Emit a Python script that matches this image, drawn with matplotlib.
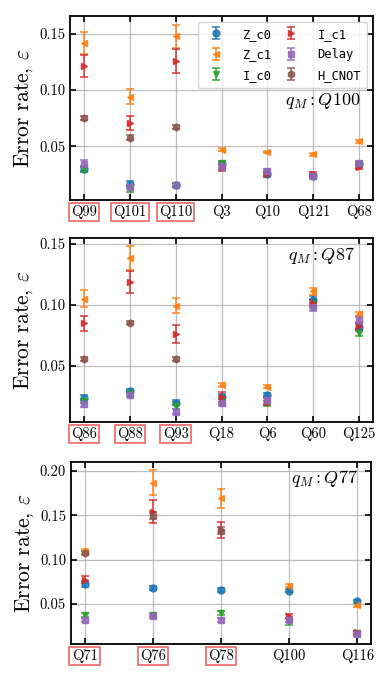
import numpy as np
import matplotlib
matplotlib.use("Agg")
import matplotlib.pyplot as plt

plt.rcParams.update({
    "font.family": "serif",
    "font.serif": ["cmr10"],
    "mathtext.fontset": "cm",
    "axes.formatter.use_mathtext": True,
    "axes.unicode_minus": False,
})

series = ["Z_c0", "Z_c1", "I_c0", "I_c1", "Delay", "H_CNOT"]
colors = ["C0", "C1", "C2", "C3", "C4", "C5"]
markers = ["o", "<", "v", ">", "s", "h"]

# panel 1, q_M = Q100
p1_labels = ["Q99", "Q101", "Q110", "Q3", "Q10", "Q121", "Q68"]
p1_zc0 = [0.0299, 0.0164, 0.0155, 0.0337, 0.0254, 0.0233, 0.0343]
p1_zc0_err = [0.002, 0.003, 0.002, 0.003, 0.002, 0.002, 0.002]
p1_zc1 = [0.1418, 0.094, 0.1478, 0.0469, 0.0448, 0.0427, 0.0543]
p1_zc1_err = [0.0098, 0.0067, 0.0104, 0.0015, 0.0012, 0.0012, 0.0015]
p1_ic0 = [0.029, 0.0119, 0.0155, 0.0352, 0.026, 0.0224, 0.0328]
p1_ic0_err = [0.002, 0.003, 0.002, 0.002, 0.002, 0.002, 0.002]
p1_ic1 = [0.1215, 0.0707, 0.126, 0.0313, 0.0248, 0.0254, 0.0313]
p1_ic1_err = [0.0097, 0.006, 0.011, 0.003, 0.002, 0.002, 0.002]
p1_delay = [0.0343, 0.0134, 0.0155, 0.0322, 0.0278, 0.0233, 0.0349]
p1_delay_err = [0.003, 0.002, 0.002, 0.003, 0.002, 0.002, 0.002]
p1_hcnot = [0.0752, 0.0576, 0.0672]
p1_hcnot_err = [0.002, 0.002, 0.002]

# panel 2, q_M = Q87
p2_labels = ["Q86", "Q88", "Q93", "Q18", "Q6", "Q60", "Q125"]
p2_zc0 = [0.0236, 0.0291, 0.0195, 0.0245, 0.0258, 0.1041, 0.0816]
p2_zc0_err = [0.002, 0.002, 0.002, 0.002, 0.002, 0.003, 0.003]
p2_zc1 = [0.1052, 0.1385, 0.0992, 0.0341, 0.0327, 0.111, 0.0923]
p2_zc1_err = [0.0066, 0.0096, 0.0062, 0.0015, 0.0012, 0.0025, 0.002]
p2_ic0 = [0.0209, 0.027, 0.017, 0.0217, 0.019, 0.1008, 0.0772]
p2_ic0_err = [0.002, 0.002, 0.003, 0.003, 0.002, 0.003, 0.003]
p2_ic1 = [0.0849, 0.1187, 0.0761, 0.0239, 0.0203, 0.1019, 0.0827]
p2_ic1_err = [0.0063, 0.0092, 0.0075, 0.004, 0.003, 0.003, 0.003]
p2_delay = [0.0181, 0.0258, 0.0121, 0.0195, 0.0217, 0.098, 0.0876]
p2_delay_err = [0.002, 0.002, 0.002, 0.003, 0.003, 0.003, 0.003]
p2_hcnot = [0.0552, 0.0854, 0.0555]
p2_hcnot_err = [0.0015, 0.0015, 0.0015]

# panel 3, q_M = Q77
p3_labels = ["Q71", "Q76", "Q78", "Q100", "Q116"]
p3_zc0 = [0.0727, 0.0678, 0.066, 0.0652, 0.0529]
p3_zc0_err = [0.003, 0.002, 0.002, 0.002, 0.002]
p3_zc1 = [0.1086, 0.1864, 0.1688, 0.0705, 0.0491]
p3_zc1_err = [0.003, 0.014, 0.011, 0.002, 0.002]
p3_ic0 = [0.0379, 0.0379, 0.0398, 0.0304, 0.0173]
p3_ic0_err = [0.002, 0.002, 0.002, 0.004, 0.002]
p3_ic1 = [0.0772, 0.1539, 0.1333, 0.036, 0.0181]
p3_ic1_err = [0.004, 0.0127, 0.0093, 0.003, 0.002]
p3_delay = [0.0323, 0.036, 0.0323, 0.0323, 0.0162]
p3_delay_err = [0.002, 0.002, 0.002, 0.002, 0.002]
p3_hcnot = [0.1079, 0.1494, 0.1325]
p3_hcnot_err = [0.002, 0.004, 0.004]

n_boxed = 3  # neighbouring qubits, highlighted


def draw_panel(ax, labels, vals, errs, qm, text_xy, ylim, yticks, legend=False):
    x = np.arange(len(labels))
    for name, c, m, v, e in zip(series, colors, markers, vals, errs):
        xi = x[:len(v)]
        ax.errorbar(xi, v, yerr=e, fmt=m, color=c, ms=5, capsize=3,
                    elinewidth=1.2, capthick=1.2, alpha=0.85, label=name,
                    zorder=3)
    ax.set_xticks(x)
    ax.set_xticklabels(labels, fontsize=10)
    for i, t in enumerate(ax.get_xticklabels()):
        if i < n_boxed:
            t.set_bbox(dict(facecolor="white", edgecolor="#f07070",
                            linewidth=1.3, pad=1.5))
    ax.set_yticks(yticks)
    ax.set_yticklabels(["%.2f" % t for t in yticks])
    ax.set_ylim(*ylim)
    ax.set_xlim(-0.05 * (len(labels) - 1), (len(labels) - 1) * 1.05)
    ax.grid(True, color="#b0b0b0", lw=0.9, alpha=0.8)
    ax.tick_params(direction="in", top=True, right=True, length=4,
                   width=1.2, labelsize=10.5)
    for s in ax.spines.values():
        s.set_linewidth(1.3)
    ax.set_ylabel(r"Error rate, $\varepsilon$", fontsize=15.5, labelpad=3)
    ax.text(text_xy[0], text_xy[1], r"$q_M : %s$" % qm, fontsize=13,
            ha="right", va="center", transform=ax.transAxes)
    if legend:
        ax.legend(ncol=2, loc="upper right",
                  prop={"family": "DejaVu Sans Mono", "size": 8.7},
                  framealpha=0.8, columnspacing=0.6, handletextpad=1.2,
                  handleheight=1.0, borderpad=0.5, labelspacing=0.6,
                  borderaxespad=0.5)


fig = plt.figure(figsize=(3.9, 6.79), dpi=100)
ax1 = fig.add_axes([0.1795, 0.7054, 0.777, 0.271])
ax2 = fig.add_axes([0.1795, 0.3785, 0.777, 0.271])
ax3 = fig.add_axes([0.182, 0.0515, 0.769, 0.268])

draw_panel(ax1, p1_labels,
           [p1_zc0, p1_zc1, p1_ic0, p1_ic1, p1_delay, p1_hcnot],
           [p1_zc0_err, p1_zc1_err, p1_ic0_err, p1_ic1_err, p1_delay_err, p1_hcnot_err],
           "Q100", (0.957, 0.538), (0.002, 0.166), [0.05, 0.10, 0.15], legend=True)
draw_panel(ax2, p2_labels,
           [p2_zc0, p2_zc1, p2_ic0, p2_ic1, p2_delay, p2_hcnot],
           [p2_zc0_err, p2_zc1_err, p2_ic0_err, p2_ic1_err, p2_delay_err, p2_hcnot_err],
           "Q87", (0.94, 0.907), (0.0036, 0.155), [0.05, 0.10, 0.15])
draw_panel(ax3, p3_labels,
           [p3_zc0, p3_zc1, p3_ic0, p3_ic1, p3_delay, p3_hcnot],
           [p3_zc0_err, p3_zc1_err, p3_ic0_err, p3_ic1_err, p3_delay_err, p3_hcnot_err],
           "Q77", (0.957, 0.909), (0.005, 0.2098), [0.05, 0.10, 0.15, 0.20])

fig.savefig("out.png", dpi=100)
